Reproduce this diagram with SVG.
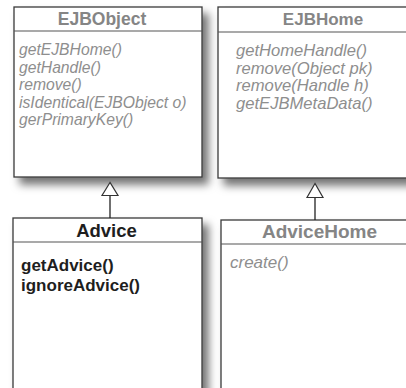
<svg xmlns="http://www.w3.org/2000/svg" width="406" height="388" viewBox="0 0 406 388">
<defs>
<filter id="sh" x="-10%" y="-10%" width="130%" height="130%">
<feDropShadow dx="6" dy="7" stdDeviation="4" flood-color="#000" flood-opacity="0.55"/>
</filter>
</defs>
<style>
.box{fill:#fff;stroke:#3a3a3a;stroke-width:1.3}
.div{stroke:#555;stroke-width:1.2}
.hd{font-family:"Liberation Sans",Arial,sans-serif;font-weight:bold;text-anchor:middle}
.g{fill:#858585}
.m{font-family:"Liberation Sans",Arial,sans-serif;font-style:italic;fill:#8e8e8e}
.b{font-family:"Liberation Sans",Arial,sans-serif;font-weight:bold;fill:#1e1e1e}
.ln{stroke:#222;stroke-width:1.3;fill:none}
.tri{fill:#fff;stroke:#333;stroke-width:1.2}
</style>
<rect width="406" height="388" fill="#fff"/>
<g id="EJBObject">
<rect class="box" x="14" y="7" width="188" height="170" filter="url(#sh)"/>
<line class="div" x1="14" y1="31" x2="202" y2="31"/>
<text class="hd g" x="102" y="25" font-size="17.5">EJBObject</text>
<g class="m" font-size="15.7">
<text x="19" y="55">getEJBHome()</text>
<text x="19" y="72.5">getHandle()</text>
<text x="19" y="90">remove()</text>
<text x="19" y="107.5">isIdentical(EJBObject o)</text>
<text x="19" y="125">gerPrimaryKey()</text>
</g>
</g>
<g id="EJBHome">
<rect class="box" x="218" y="7" width="210" height="171" filter="url(#sh)"/>
<line class="div" x1="218" y1="32" x2="406" y2="32"/>
<text class="hd g" x="323" y="25" font-size="17">EJBHome</text>
<g class="m" font-size="16.6">
<text x="236" y="56">getHomeHandle()</text>
<text x="236" y="73.5">remove(Object pk)</text>
<text x="236" y="91">remove(Handle h)</text>
<text x="236" y="108.5">getEJBMetaData()</text>
</g>
</g>
<g id="Advice">
<rect class="box" x="13" y="218" width="189" height="190" filter="url(#sh)"/>
<line class="div" x1="13" y1="242" x2="202" y2="242"/>
<text class="hd" x="106.5" y="237" font-size="18.5" fill="#1e1e1e">Advice</text>
<text class="b" x="21" y="271" font-size="17">getAdvice()</text>
<text class="b" x="21" y="291" font-size="17">ignoreAdvice()</text>
</g>
<g id="AdviceHome">
<rect class="box" x="221" y="220" width="210" height="190" filter="url(#sh)"/>
<line class="div" x1="221" y1="244" x2="406" y2="244"/>
<text class="hd g" x="319.5" y="238" font-size="19">AdviceHome</text>
<text class="m" x="230" y="268" font-size="17">create()</text>
</g>
<g id="connectors">
<line class="ln" x1="110" y1="195.5" x2="110" y2="218"/>
<polygon class="tri" points="110,182.5 102,195.5 118,195.5"/>
<line class="ln" x1="315" y1="197.5" x2="315" y2="220"/>
<polygon class="tri" points="315,183.5 307,197.5 323,197.5"/>
</g>
</svg>
